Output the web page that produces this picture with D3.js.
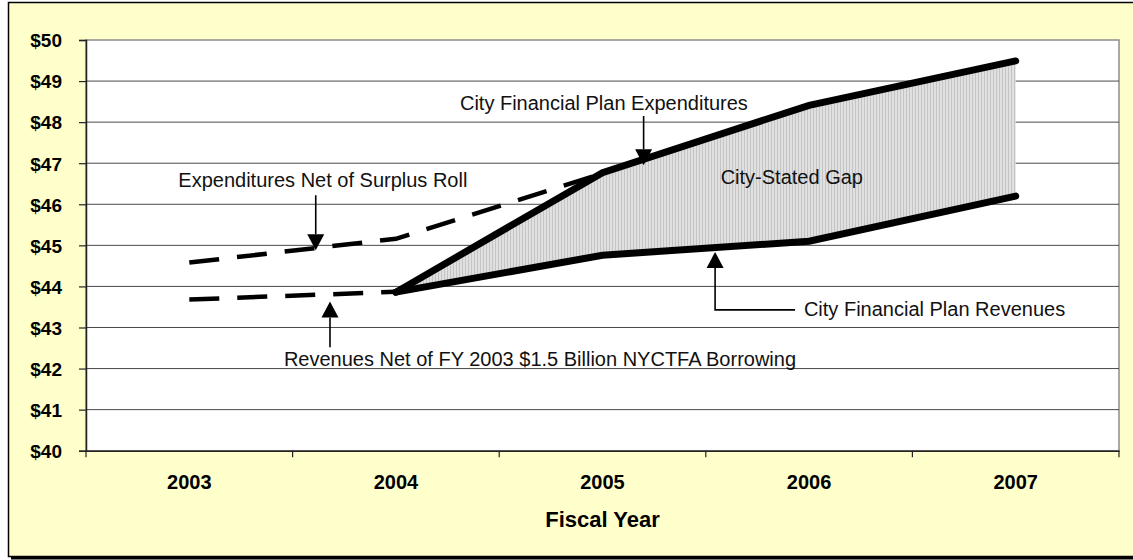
<!DOCTYPE html>
<html>
<head>
<meta charset="utf-8">
<script src="https://cdn.jsdelivr.net/npm/d3@7"></script>
<style>
  html, body { margin: 0; padding: 0; background: #ffffff; }
  svg { display: block; font-family: "Liberation Sans", Arial, sans-serif; }
</style>
</head>
<body>
<svg id="chart" width="1133" height="560"></svg>
<script>
// Fiscal years on the category axis
const years = ["2003", "2004", "2005", "2006", "2007"];

// Billions of dollars; null where a series has no value
const planExpenditures  = [null, 43.86, 46.77, 48.41, 49.49];
const planRevenues      = [null, 43.86, 44.76, 45.10, 46.20];
const expNetSurplusRoll = [44.58, 45.16, 46.75, null, null];
const revNetBorrowing   = [43.68, 43.87, null, null, null];

// Value axis ticks
const yTicks = [40, 41, 42, 43, 44, 45, 46, 47, 48, 49, 50];

const W = 1133, H = 560;
const plot = { left: 86, right: 1119, top: 40, bottom: 450.7 };

const svg = d3.select("#chart");

// Frame and background
svg.append("rect").attr("x", 8.5).attr("y", 2.5).attr("width", W + 10).attr("height", 554)
  .attr("fill", "#ffffcc").attr("stroke", "#000").attr("stroke-width", 1.5);
svg.append("line").attr("x1", 11).attr("x2", W).attr("y1", 558.3).attr("y2", 558.3)
  .attr("stroke", "#000").attr("stroke-width", 2.5);

// Scales
const x = d3.scaleBand().domain(years).range([plot.left, plot.right]).padding(0);
const cx = d => x(d) + x.bandwidth() / 2;
const y = d3.scaleLinear().domain([40, 50]).range([plot.bottom, plot.top]);
// continuous position along the categories, used for annotation placement
const xi = d3.scaleLinear().domain([0, years.length - 1]).range([cx(years[0]), cx(years[years.length - 1])]);

// Plot area
svg.append("rect").attr("x", plot.left).attr("y", plot.top)
  .attr("width", plot.right - plot.left).attr("height", plot.bottom - plot.top)
  .attr("fill", "#ffffff").attr("stroke", "#8c8c8c").attr("stroke-width", 1.5);

// Gridlines
svg.append("g").selectAll("line").data(yTicks.filter(t => t > 40 && t < 50)).join("line")
  .attr("x1", plot.left).attr("x2", plot.right)
  .attr("y1", d => y(d)).attr("y2", d => y(d))
  .attr("stroke", "#4a4a4a").attr("stroke-width", 1);

// Gap fill pattern (fine vertical hatching)
const defs = svg.append("defs");
const pat = defs.append("pattern").attr("id", "vhatch").attr("patternUnits", "userSpaceOnUse")
  .attr("width", 3).attr("height", 10);
pat.append("rect").attr("width", 3).attr("height", 10).attr("fill", "#e0e0e0");
pat.append("rect").attr("width", 1).attr("height", 10).attr("fill", "#c4c4c4");

// City-stated gap area between plan expenditures and revenues
const gapData = years.map((yr, i) => ({ yr, hi: planExpenditures[i], lo: planRevenues[i] }))
  .filter(d => d.hi != null && d.lo != null);
svg.append("path").datum(gapData)
  .attr("d", d3.area().x(d => cx(d.yr)).y0(d => y(d.lo)).y1(d => y(d.hi)))
  .attr("fill", "url(#vhatch)");

// Series lines
const lineGen = d3.line().defined(d => d.v != null).x(d => cx(d.yr)).y(d => y(d.v));
const toPts = arr => years.map((yr, i) => ({ yr, v: arr[i] }));

function drawDashed(arr) {
  svg.append("path").datum(toPts(arr)).attr("d", lineGen)
    .attr("fill", "none").attr("stroke", "#000").attr("stroke-width", 4.5)
    .attr("stroke-dasharray", "30,18").attr("stroke-linejoin", "miter");
}
function drawSolid(arr) {
  svg.append("path").datum(toPts(arr)).attr("d", lineGen)
    .attr("fill", "none").attr("stroke", "#000").attr("stroke-width", 7)
    .attr("stroke-linecap", "round").attr("stroke-linejoin", "miter");
}
drawDashed(expNetSurplusRoll);
drawDashed(revNetBorrowing);
drawSolid(planRevenues);
drawSolid(planExpenditures);

// Y axis
const yAxis = svg.append("g").attr("transform", `translate(${plot.left},0)`)
  .call(d3.axisLeft(y).tickValues(yTicks).tickFormat(d => "$" + d).tickSize(7).tickPadding(17));
yAxis.select(".domain").attr("stroke", "#222").attr("stroke-width", 1.5);
yAxis.selectAll(".tick line").attr("stroke", "#222").attr("stroke-width", 1.2);
yAxis.selectAll(".tick text").attr("font-size", 19).attr("font-weight", "bold")
  .attr("fill", "#000").attr("font-family", "Liberation Sans, Arial, sans-serif").attr("dy", "0.36em");

// X axis: labels at category centres, tick marks at category boundaries
const xAxis = svg.append("g").attr("transform", `translate(0,${plot.bottom})`)
  .call(d3.axisBottom(x).tickSize(0).tickPadding(24));
xAxis.select(".domain").attr("stroke", "#222").attr("stroke-width", 1.5);
xAxis.selectAll(".tick text").attr("font-size", 20).attr("font-weight", "bold")
  .attr("fill", "#000").attr("font-family", "Liberation Sans, Arial, sans-serif");
const bounds = d3.range(years.length + 1).map(i => plot.left + i * x.step());
svg.append("g").selectAll("line").data(bounds).join("line")
  .attr("x1", d => d).attr("x2", d => d)
  .attr("y1", plot.bottom).attr("y2", plot.bottom + 6.5)
  .attr("stroke", "#222").attr("stroke-width", 1.2);

svg.append("text").attr("x", (plot.left + plot.right) / 2).attr("y", 527.3)
  .attr("text-anchor", "middle").attr("font-size", 22).attr("font-weight", "bold")
  .attr("fill", "#000").text("Fiscal Year");

// Annotations (positions in category index / dollar units)
const notes = [
  { text: "City Financial Plan Expenditures", tx: 1.31, ty: 48.29 },
  { text: "Expenditures Net of Surplus Roll", tx: -0.053, ty: 46.42 },
  { text: "City-Stated Gap", tx: 2.572, ty: 46.49 },
  { text: "City Financial Plan Revenues", tx: 2.975, ty: 43.29 },
  { text: "Revenues Net of FY 2003 $1.5 Billion NYCTFA Borrowing", tx: 0.458, ty: 42.06 }
];
svg.append("g").selectAll("text").data(notes).join("text")
  .attr("x", d => xi(d.tx)).attr("y", d => y(d.ty))
  .attr("font-size", 20).attr("fill", "#111").text(d => d.text);

// Arrow paths: list of [index, value] points, the last one is the tip
const arrows = [
  [[2.199, 48.15], [2.199, 46.95]],
  [[0.612, 46.22], [0.612, 44.88]],
  [[2.932, 43.43], [2.545, 43.43], [2.545, 44.84]],
  [[0.681, 42.52], [0.681, 43.63]]
];
const headLen = 16, headHalf = 8.5;
arrows.forEach(pts => {
  const p = pts.map(([i, v]) => [xi(i), y(v)]);
  const tip = p[p.length - 1], prev = p[p.length - 2];
  const dx = tip[0] - prev[0], dy = tip[1] - prev[1];
  const len = Math.hypot(dx, dy), ux = dx / len, uy = dy / len;
  const base = [tip[0] - ux * headLen, tip[1] - uy * headLen];
  const shaft = p.slice(0, -1).concat([base]);
  svg.append("path").attr("d", d3.line()(shaft))
    .attr("fill", "none").attr("stroke", "#000").attr("stroke-width", 1.6);
  svg.append("path")
    .attr("d", d3.line()([tip,
      [base[0] - uy * headHalf, base[1] + ux * headHalf],
      [base[0] + uy * headHalf, base[1] - ux * headHalf]]) + "Z")
    .attr("fill", "#000");
});
</script>
</body>
</html>
